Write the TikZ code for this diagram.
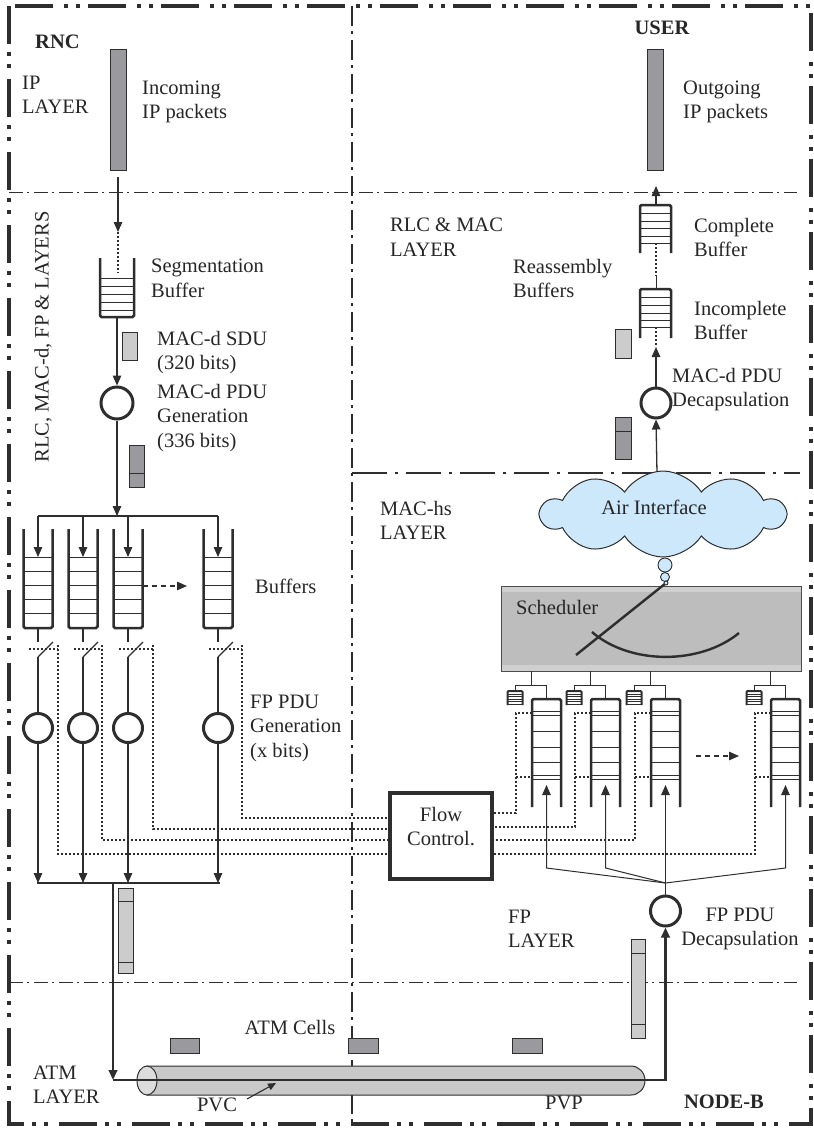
\documentclass[tikz,border=0pt]{standalone}
\usepackage{fontspec}
\setmainfont{Liberation Serif}
\usetikzlibrary{arrows.meta,shapes.symbols}
\definecolor{lc}{HTML}{2E2E2E}
\definecolor{tc}{HTML}{262626}
\definecolor{pkd}{HTML}{9A9A9E}
\definecolor{pkl}{HTML}{CCCCCC}
\definecolor{schg}{HTML}{BDBDBD}
\definecolor{schl}{HTML}{CFCFCF}
\definecolor{cloudc}{HTML}{CDE8FA}
\definecolor{pipec}{HTML}{C8C8C8}
\definecolor{pipee}{HTML}{DCDCDC}
\begin{document}
\begin{tikzpicture}[x=1pt,y=-1pt,
  ln/.style={draw=lc,line width=1.3pt},
  arr/.style={ln,-{Triangle[length=10pt,width=8.5pt]}},
  thk/.style={draw=lc,line width=2.4pt},
  tarr/.style={thk,-{Triangle[length=10pt,width=8.5pt]}},
  wall/.style={draw=lc,line width=2.5pt,rounded corners=1.5pt},
  slot/.style={draw=lc,line width=0.9pt},
  dots/.style={draw=lc,line width=2.1pt,dash pattern=on 2.1pt off 1.9pt},
  circ/.style={circle,draw=lc,line width=3pt,inner sep=0pt},
  pkt/.style={draw=lc,line width=1pt,inner sep=0pt},
  lbl/.style={inner sep=0pt,align=left,text=tc,font=\fontsize{20.5}{24.5}\selectfont},
  blbl/.style={inner sep=0pt,text=tc,font=\fontsize{20.5}{24.5}\selectfont\bfseries},
]
\useasboundingbox (0,0) rectangle (814,1128);
% ---------- frame and dividers ----------
\draw[draw=lc,line width=4.5pt,dash pattern=on 38pt off 8pt on 4pt off 8pt on 4pt off 11pt] (9,6) rectangle (811,1124);
\draw[draw=lc,line width=2.3pt,dash pattern=on 20pt off 5pt on 3pt off 6pt] (352,6) -- (352,1124);
\draw[draw=lc,line width=0.9pt,dash pattern=on 14pt off 4pt on 2pt off 5pt] (9,192) -- (797,192);
\draw[draw=lc,line width=0.9pt,dash pattern=on 14pt off 4pt on 2pt off 5pt] (9,982) -- (797,982);
\draw[draw=lc,line width=2.8pt,dash pattern=on 35pt off 8pt on 3pt off 8pt] (352,473) -- (800,473);

% ---------- labels ----------
\node[blbl,anchor=west] (rnc) at (35,42) {RNC};
\node[blbl] (user) at (662,28) {USER};
\node[lbl,anchor=west] (iplayer) at (22,95) {IP\\LAYER};
\node[lbl,anchor=west] (inctxt) at (142,102) {Incoming\\IP packets};
\node[lbl,anchor=west] (outtxt) at (683,102) {Outgoing\\IP packets};
\node[lbl,anchor=west] (segtxt) at (151,278.5) {Segmentation\\Buffer};
\node[lbl,anchor=west] (sdutxt) at (157,352.5) {MAC-d SDU\\(320 bits)};
\node[lbl,anchor=west] (pdutxt) at (157,418) {MAC-d PDU\\Generation\\(336 bits)};
\node[lbl,rotate=90] (rlctxt) at (43,337) {RLC, MAC-d, FP \& LAYERS};
\node[lbl,anchor=west] (rlcmac) at (390,237) {RLC \& MAC\\LAYER};
\node[lbl,anchor=west] (reass) at (513,278.5) {Reassembly\\Buffers};
\node[lbl,anchor=west] (comptxt) at (694,237.5) {Complete\\Buffer};
\node[lbl,anchor=west] (inctxt2) at (694,320.5) {Incomplete\\Buffer};
\node[lbl,anchor=west] (dectxt) at (672,389.5) {MAC-d PDU\\Decapsulation};
\node[lbl,anchor=west] (machs) at (380,520.5) {MAC-hs\\LAYER};
\node[lbl,anchor=west] (buftxt) at (255,586) {Buffers};
\node[lbl,anchor=west] (fpgen) at (250,728) {FP PDU\\Generation\\(x bits)};
\node[lbl,anchor=west] (fplayer) at (508,929) {FP\\LAYER};
\node[lbl,align=center] (fpdec) at (740,929) {FP PDU\\Decapsulation};
\node[lbl] (atmcells) at (290,1027) {ATM Cells};
\node[lbl,anchor=west] (atmlayer) at (33,1084.5) {ATM\\LAYER};

% ---------- RNC: IP and segmentation ----------
\node[pkt,fill=pkd,minimum width=16,minimum height=121] (inbar) at (118,109.5) {};
\coordinate (inA) at (118,177);
\coordinate (inB) at (118,232);
\coordinate (inC) at (118,273);
\draw[arr] (inA) -- (inB);
\draw[dots] (inB) -- (inC);
\draw[wall] (100,258) -- (100,317) -- (134,317) -- (134,258);
\foreach \y in {278,286,294,302,310} \draw[slot] (100,\y) -- (134,\y);
\coordinate (segb) at (117,317);
\node[circ,minimum size=32] (gen1) at (117,403) {};
\draw[arr] (segb) -- (gen1.north);
\node[pkt,fill=pkl,minimum width=15,minimum height=28] (sdu) at (129.5,346) {};
\node[pkt,fill=pkd,minimum width=15,minimum height=42] (pdu) at (136.5,466) {};
\draw[draw=lc,line width=1pt] (pdu.west |- 0,473) -- (pdu.east |- 0,473);
\coordinate (dist) at (117,516);
\draw[arr] (gen1.south) -- (dist);
\draw[ln] (38,516) -- (218,516);
\draw[ln,dash pattern=on 5pt off 4pt,-{Triangle[length=10pt,width=8.5pt]}] (143,586) -- (187,586);

\foreach \x/\dx/\yb in {38/20/854, 83/19/840, 128/25/829, 218/24/818} {
  \draw[arr] (\x,516) -- (\x,557);
  \draw[wall] (\x-14.5,529) -- (\x-14.5,628) -- (\x+14.5,628) -- (\x+14.5,529);
  \foreach \y in {557,571,585,599,613} \draw[slot] (\x-14.5,\y) -- (\x+14.5,\y);
  \draw[ln] (\x,628) -- (\x,642);
  \draw[ln] (\x,657) -- (\x+15,642);
  \node[circ,minimum size=29] (fg\x) at (\x,728) {};
  \draw[ln] (\x,657) -- (fg\x.north);
  \draw[arr] (fg\x.south) -- (\x,883);
  \draw[dots] (\x-9,649) -- (\x+\dx,649);
  \draw[dots] (\x+\dx,645) -- (\x+\dx,\yb) -- (389,\yb);
}
\draw[thk] (37,883) -- (220,883);
\node[pkt,fill=pkl,minimum width=15,minimum height=85] (fpl) at (125.5,930.5) {};
\draw[draw=lc,line width=1pt] (118,901) -- (133,901) (118,962) -- (133,962);

% ---------- flow control ----------
\node[draw=lc,line width=3.2pt,minimum width=102,minimum height=86,inner sep=0] (fc) at (441,836) {};
\node[lbl,align=center] (fctxt) at (441,826.5) {Flow\\Control.};

% ---------- USER side ----------
\node[pkt,fill=pkd,minimum width=16,minimum height=121] (outbar) at (655,109.5) {};
\draw[arr] (656,205) -- (656,186);
\draw[wall] (640,253) -- (640,205) -- (671,205) -- (671,253);
\foreach \y in {213,221,228,236,243} \draw[slot] (640,\y) -- (671,\y);
\draw[dots] (656,243) -- (656,276);
\draw[draw=lc,line width=1pt] (656,276) -- (656,289);
\draw[wall] (640,338) -- (640,289) -- (671,289) -- (671,338);
\foreach \y in {297,305,313,320,327} \draw[slot] (640,\y) -- (671,\y);
\draw[dots] (656,327) -- (656,347);
\node[circ,minimum size=30] (dec) at (656,403) {};
\draw[arr] (dec.north) -- (656,347);
\coordinate (airtop) at (657,473);
\draw[arr] (airtop) -- (dec.south);
\node[pkt,fill=pkl,minimum width=16,minimum height=29] (sdur) at (623,343.5) {};
\node[pkt,fill=pkd,minimum width=16,minimum height=42] (pdur) at (623,438) {};
\draw[draw=lc,line width=1pt] (615,431) -- (631,431);

% ---------- air interface and scheduler ----------
\node[cloud,cloud puffs=10,cloud puff arc=115,aspect=2.8,draw=lc,line width=1pt,fill=cloudc,minimum width=244,minimum height=86,inner sep=0pt] (air) at (663,514) {};
\node[lbl] (airtxt) at (654,507) {Air Interface};
\draw[draw=lc,line width=0.9pt,fill=cloudc] (665,565) circle[radius=7pt];
\draw[draw=lc,line width=0.9pt,fill=cloudc] (665,577) circle[radius=4.5pt];
\fill[schg] (501,586) rectangle (801,671);
\fill[schl] (501,586) rectangle (801,592);
\fill[schl] (501,665) rectangle (801,671);
\node[draw=gray!60!black,line width=1pt,minimum width=300,minimum height=85,inner sep=0] (sched) at (651,628.5) {};
\node[lbl,anchor=west] (schtxt) at (516,607) {Scheduler};
\draw[thk] (666,583) -- (576,655);
\draw[thk] (592,632) .. controls (630,665) and (700,665) .. (739,633);
\draw[draw=lc,line width=0.9pt,fill=cloudc] (666,583) circle[radius=2pt];

\foreach \xl/\yf in {532/813, 591/827, 651/840, 771/854} {
  \draw[draw=lc,line width=1pt] (\xl-1,671) -- (\xl-1,685);
  \draw[draw=lc,line width=1pt] (\xl-17,691) -- (\xl-17,685) -- (\xl+14.5,685) -- (\xl+14.5,699);
  \draw[draw=lc,line width=2pt,rounded corners=1pt] (\xl-24.5,705) -- (\xl-24.5,691) -- (\xl-9.5,691) -- (\xl-9.5,705);
  \foreach \y in {694,696.5,699,701.5,704} \draw[draw=lc,line width=0.9pt] (\xl-24.5,\y) -- (\xl-9.5,\y);
  \draw[wall] (\xl,807) -- (\xl,699) -- (\xl+29,699) -- (\xl+29,807);
  \foreach \y in {711,715,731,747,762,775,779} \draw[slot] (\xl,\y) -- (\xl+29,\y);
  \draw[dots] (\xl,713) -- (\xl-16,713) -- (\xl-16,\yf) -- (494,\yf);
  \draw[dots] (\xl-16,777) -- (\xl,777);
}
\draw[ln,dash pattern=on 5pt off 4pt,-{Triangle[length=10pt,width=8.5pt]}] (696,756) -- (739,756);

% ---------- FP decapsulation ----------
\node[circ,minimum size=30] (fpd) at (665.5,911) {};
\coordinate (conv) at (665.5,883);
\draw[draw=lc,line width=1pt] (fpd.north) -- (conv);
\draw[draw=lc,line width=1pt,-{Triangle[length=10pt,width=8.5pt]}] (conv) -- (665.5,785);
\draw[draw=lc,line width=1pt,-{Triangle[length=10pt,width=8.5pt]}] (conv) -- (546.5,868) -- (546.5,785);
\draw[draw=lc,line width=1pt,-{Triangle[length=10pt,width=8.5pt]}] (conv) -- (605.5,868) -- (605.5,785);
\draw[draw=lc,line width=1pt,-{Triangle[length=10pt,width=8.5pt]}] (conv) -- (785.5,868) -- (785.5,785);
\node[pkt,fill=pkl,minimum width=14,minimum height=99] (fpr) at (638,988.5) {};
\draw[draw=lc,line width=1pt] (631,953) -- (645,953) (631,1024) -- (645,1024);

% ---------- ATM ----------
\node[pkt,fill=pkd,minimum width=29,minimum height=15] (cell1) at (184.5,1045.5) {};
\node[pkt,fill=pkd,minimum width=30,minimum height=15] (cell2) at (363,1045.5) {};
\node[pkt,fill=pkd,minimum width=30,minimum height=15] (cell3) at (527,1045.5) {};
\draw[draw=lc,line width=1pt,fill=pipec] (147,1066) -- (631,1066) arc[start angle=90,end angle=-90,x radius=14pt,y radius=14.5pt] -- (147,1095) -- cycle;
\draw[draw=lc,line width=1pt,fill=pipee] (147,1080.5) ellipse[x radius=10pt,y radius=14.5pt];
\coordinate (fpjoin) at (113,883);
\coordinate (atmL) at (113,1080);
\coordinate (atmR) at (665.5,1080);
\draw[tarr] (fpjoin) -- (atmL);
\draw[tarr] (atmL) -- (atmR) -- (fpd.south);
\node[lbl] (pvc) at (217,1105) {PVC};
\draw[draw=lc,line width=1.1pt,-{Triangle[length=8pt,width=7pt]}] (247,1099) -- (276,1083);
\node[lbl] (pvp) at (564,1103) {PVP};
\node[blbl] (nodeb) at (724,1102) {NODE-B};
\end{tikzpicture}
\end{document}
